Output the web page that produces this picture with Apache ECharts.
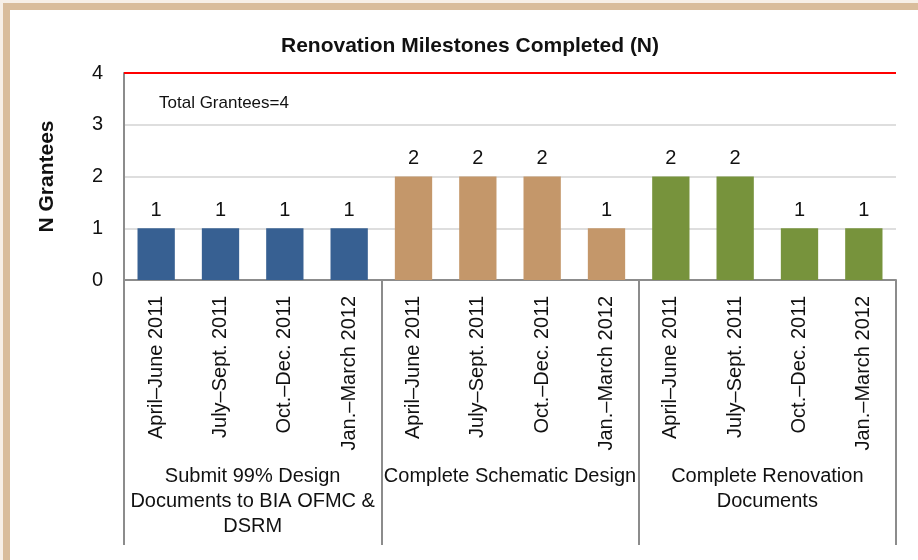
<!DOCTYPE html>
<html>
<head>
<meta charset="utf-8">
<script src="https://cdn.jsdelivr.net/npm/echarts@6/dist/echarts.min.js"></script>
<style>
  html, body { margin: 0; padding: 0; background: #f7f0e8; }
  #chart { width: 918px; height: 560px; }
</style>
</head>
<body>
<div id="chart"></div>
<script>
  // quarters repeated for each milestone
  const quarters = ['April–June 2011', 'July–Sept. 2011', 'Oct.–Dec. 2011', 'Jan.–March 2012'];
  const milestones = ['Submit 99% Design\nDocuments to BIA OFMC &\nDSRM', 'Complete Schematic Design', 'Complete Renovation\nDocuments'];
  const grantees = [1, 1, 1, 1, 2, 2, 2, 1, 2, 2, 1, 1];
  const milestoneColors = ['#376092', '#c4976a', '#77933c'];
  const totalGrantees = 4;
  const yTicks = [0, 1, 2, 3, 4];

  const font = "'Liberation Sans Narrow', 'Arial Narrow', sans-serif";
  const categories = [];
  milestones.forEach(() => categories.push(...quarters));

  const chart = echarts.init(document.getElementById('chart'));
  chart.setOption({
    backgroundColor: '#f7f0e8',
    animation: false,
    textStyle: {fontFamily: font},
    graphic: [
      {type: 'rect', z: -10, shape: {x: 6.5, y: 6.5, width: 1000, height: 1000},
        style: {fill: '#ffffff', stroke: '#d9bd9c', lineWidth: 7}}
    ],
    title: [
      {text: 'Renovation Milestones Completed (N)', left: 276, top: 31,
        textStyle: {fontFamily: font, fontSize: 21, fontWeight: 'bold', color: '#111'}},
      {text: 'Total Grantees=' + totalGrantees, left: 154, top: 90,
        textStyle: {fontFamily: font, fontSize: 17, fontWeight: 'normal', color: '#111'}}
    ],
    grid: {left: 124, right: 22, top: 73, bottom: 280},
    xAxis: [
      {
        type: 'category', data: categories, position: 'bottom',
        axisLine: {lineStyle: {color: '#8c8c8c', width: 2}},
        axisTick: {show: false},
        axisLabel: {interval: 0, rotate: 90, margin: 16, fontSize: 20, color: '#111', fontFamily: font}
      },
      {
        type: 'category', data: milestones, position: 'bottom',
        axisLine: {show: false},
        axisTick: {show: true, interval: 0, length: 265, lineStyle: {color: '#8c8c8c', width: 2}},
        axisLabel: {interval: 0, margin: 184, fontSize: 20, lineHeight: 25, color: '#111', fontFamily: font, align: 'center'}
      }
    ],
    yAxis: {
      type: 'value', min: 0, max: yTicks[yTicks.length - 1], interval: 1,
      name: 'N Grantees', nameLocation: 'middle', nameGap: 66, nameRotate: 90,
      nameTextStyle: {fontFamily: font, fontSize: 21, fontWeight: 'bold', color: '#111'},
      axisLine: {show: true, lineStyle: {color: '#8c8c8c', width: 2}},
      axisTick: {show: false},
      axisLabel: {fontSize: 20, color: '#111', margin: 21, fontFamily: font},
      splitLine: {lineStyle: {color: '#dedede', width: 2}}
    },
    series: [{
      type: 'bar',
      xAxisIndex: 0,
      barCategoryGap: '42%',
      data: grantees.map((v, i) => ({
        value: v,
        itemStyle: {color: milestoneColors[Math.floor(i / quarters.length)]}
      })),
      label: {show: true, position: 'top', distance: 8, fontSize: 20, color: '#111', fontFamily: font},
      markLine: {
        silent: true, symbol: 'none', label: {show: false},
        lineStyle: {color: '#ff0000', width: 2, type: 'solid'},
        data: [{yAxis: totalGrantees}]
      }
    }]
  });
</script>
</body>
</html>
